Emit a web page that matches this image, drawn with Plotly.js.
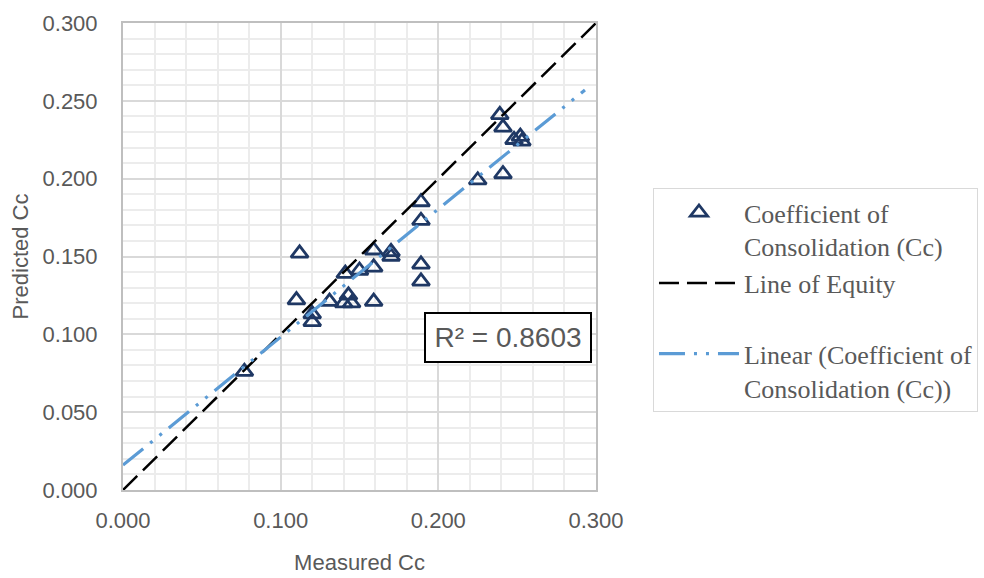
<!DOCTYPE html>
<html>
<head>
<meta charset="utf-8">
<script src="https://cdn.plot.ly/plotly-3.0.1.min.js"></script>
<style>html,body{margin:0;padding:0;background:#fff;}#chart{width:984px;height:578px;}</style>
</head>
<body>
<div id="chart"></div>
<script>
// Measured vs predicted compression index (Cc)
var measuredCc = [0.077, 0.110, 0.112, 0.120, 0.120, 0.131, 0.140, 0.145, 0.143, 0.141,
                  0.150, 0.159, 0.159, 0.159, 0.170, 0.170, 0.189, 0.189, 0.189, 0.189,
                  0.225, 0.241, 0.239, 0.241, 0.248, 0.252, 0.253];
var predictedCc = [0.076, 0.122, 0.152, 0.113, 0.108, 0.121, 0.120, 0.120, 0.125, 0.139,
                   0.141, 0.143, 0.154, 0.121, 0.153, 0.150, 0.185, 0.173, 0.145, 0.134,
                   0.199, 0.203, 0.241, 0.233, 0.225, 0.227, 0.224];
var equityX = [0, 0.3];
var equityY = [0, 0.3];
var trendX = [0, 0.293];
var trendY = [0.016, 0.257];
var rSquaredLabel = "R² = 0.8603";
var xTickVals = [0, 0.1, 0.2, 0.3];
var yTickVals = [0, 0.05, 0.1, 0.15, 0.2, 0.25, 0.3];

var sans = "'Liberation Sans', Arial, sans-serif";
var serif = "'Liberation Serif', 'Times New Roman', serif";
var grey = "#595959";

var traces = [
  {
    x: measuredCc, y: predictedCc, type: "scatter", mode: "markers",
    name: "Coefficient of<br>Consolidation (Cc)", legendgroup: "a",
    marker: {symbol: "triangle-up-open", size: 15, color: "#1F3864", line: {width: 2.8, color: "#1F3864"}}
  },
  {
    x: equityX, y: equityY, type: "scatter", mode: "lines",
    name: "Line of Equity<br> ", legendgroup: "b",
    line: {color: "#000000", width: 2.5, dash: "20px,8px"}
  },
  {
    x: trendX, y: trendY, type: "scatter", mode: "lines",
    name: "Linear (Coefficient of<br>Consolidation (Cc))", legendgroup: "c",
    line: {color: "#5B9BD5", width: 3.2, dash: "26px,9px,3px,9px,3px,9px"}
  }
];

var layout = {
  width: 984, height: 578,
  margin: {l: 123, r: 388, t: 23, b: 88},
  paper_bgcolor: "#ffffff", plot_bgcolor: "#ffffff",
  showlegend: true,
  legend: {
    xref: "container", yref: "container",
    x: 0.6636, y: 0.6747, xanchor: "left", yanchor: "top",
    bordercolor: "#d9d9d9", borderwidth: 1, bgcolor: "#ffffff",
    font: {family: serif, size: 26, color: grey},
    itemwidth: 80, valign: "top", tracegroupgap: 6,
    traceorder: "normal"
  },
  xaxis: {
    range: [0, 0.3], tickvals: xTickVals, tickformat: ".3f",
    showgrid: true, gridcolor: "#d9d9d9", gridwidth: 2,
    minor: {dtick: 0.02, showgrid: true, gridcolor: "#ececec", gridwidth: 2},
    showline: true, linecolor: "#bfbfbf", linewidth: 2, mirror: true,
    zeroline: false, ticks: "", ticklabelstandoff: 10, automargin: false,
    tickfont: {family: sans, size: 22, color: grey},
    title: {text: "Measured Cc", font: {family: sans, size: 22, color: grey}, standoff: 22}
  },
  yaxis: {
    range: [0, 0.3], tickvals: yTickVals, tickformat: ".3f",
    showgrid: true, gridcolor: "#d9d9d9", gridwidth: 2,
    minor: {dtick: 0.01, showgrid: true, gridcolor: "#ececec", gridwidth: 2},
    showline: true, linecolor: "#bfbfbf", linewidth: 2, mirror: true,
    zeroline: false, ticks: "", ticklabelstandoff: 19, automargin: false,
    tickfont: {family: sans, size: 22, color: grey},
    title: {text: "Predicted Cc", font: {family: sans, size: 22, color: grey}, standoff: 8}
  },
  annotations: [{
    x: 0.2439, y: 0.098, xref: "x", yref: "y",
    text: rSquaredLabel, showarrow: false,
    font: {family: sans, size: 28, color: grey},
    bordercolor: "#000000", borderwidth: 2, bgcolor: "#ffffff",
    width: 162, height: 45, borderpad: 1
  }]
};

Plotly.newPlot("chart", traces, layout, {displayModeBar: false, staticPlot: true});
</script>
</body>
</html>
